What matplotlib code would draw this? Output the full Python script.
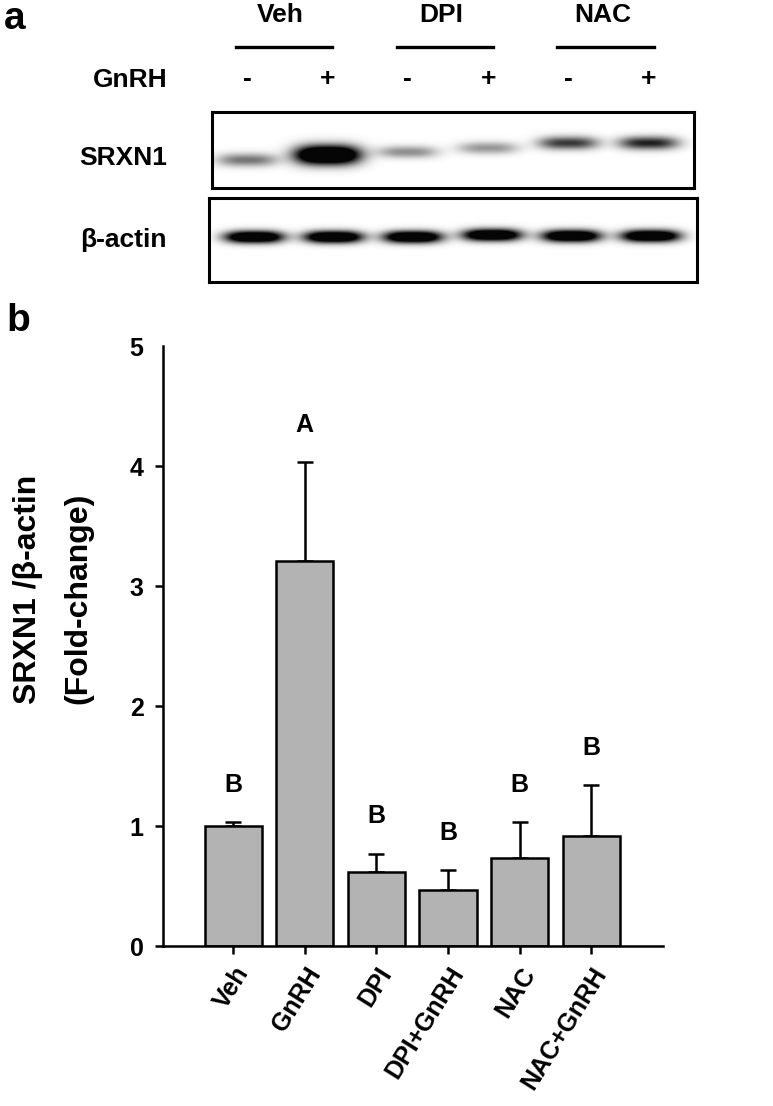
import numpy as np
import matplotlib
matplotlib.use("Agg")
import matplotlib.pyplot as plt
import matplotlib.transforms as mtransforms

plt.rcParams['font.family'] = ['Liberation Sans', 'DejaVu Sans']
plt.rcParams['font.weight'] = 'bold'

# -----------------------
# Data
# -----------------------
groups = ["Veh", "DPI", "NAC"]
gnrh_signs = ["-", "+", "-", "+", "-", "+"]
srxn1_density = [0.55, 1.80, 0.45, 0.42, 0.80, 0.90]   # band darkness (a.u.)
actin_density = [1.60, 1.60, 1.60, 1.60, 1.60, 1.60]

conditions = ["Veh", "GnRH", "DPI", "DPI+GnRH", "NAC", "NAC+GnRH"]
fold_change = [1.00, 3.21, 0.62, 0.47, 0.73, 0.92]
sem = [0.03, 0.82, 0.15, 0.16, 0.30, 0.42]
letters = ["B", "A", "B", "B", "B", "B"]

# band shape (appearance only)
srxn1_row = [48, 43, 40, 36, 31, 31]      # px from top of membrane box
srxn1_thick = [6.5, 9.5, 6, 6, 6.5, 6.5]
actin_row = [39, 39, 39, 37, 38, 38]

W, H = 773, 1106
fig = plt.figure(figsize=(W / 100, H / 100), dpi=100)


def px_axes(x0, y0, x1, y1):
    # axes from pixel box (top-left origin)
    return fig.add_axes([x0 / W, 1 - y1 / H, (x1 - x0) / W, (y1 - y0) / H])


def blot_image(ax, xlim, h_px, density, rows, thick, half_w):
    xs = np.linspace(xlim[0], xlim[1], 600)
    ys = np.arange(h_px) + 0.5
    xx, yy = np.meshgrid(xs, ys)
    dark = np.zeros_like(xx)
    for i, d in enumerate(density):
        hw = half_w * (1.1 if d > 1.7 else 1.0)
        dark += d * np.exp(-(np.abs(xx - i) / hw) ** 3) * np.exp(-((yy - rows[i]) / thick[i]) ** 2)
    img = 1 - 0.98 * np.clip(dark, 0, 1)
    ax.imshow(img, cmap="gray", vmin=0, vmax=1, aspect="auto",
              extent=[xlim[0], xlim[1], h_px, 0], interpolation="bilinear")
    ax.set_xlim(*xlim)
    ax.set_ylim(h_px, 0)
    ax.set_xticks([])
    ax.set_yticks([])
    for s in ax.spines.values():
        s.set_linewidth(2.2)


# -----------------------
# Panel a: western blot
# -----------------------
top_xlim = (-0.435, 5.56)
ax_top = px_axes(212, 112, 694, 188)
blot_image(ax_top, top_xlim, 76, srxn1_density, srxn1_row, srxn1_thick, 0.37)

ax_bot = px_axes(209, 198, 697, 282)
blot_image(ax_bot, (-0.567, 5.58), 84, actin_density, actin_row, [6.0] * 6, 0.37)

trans = mtransforms.blended_transform_factory(ax_top.transData, fig.transFigure)
for g, name in enumerate(groups):
    start = 2 * g
    fig.text(start + 0.42, 1 - 15 / H, name, transform=trans, ha="center", va="center",
             fontsize=19, fontweight="bold")
    fig.add_artist(plt.Line2D([start - 0.14, start + 1.06], [1 - 47 / H] * 2,
                              transform=trans, color="black", lw=2.4))
for i, s in enumerate(gnrh_signs):
    fig.text(i, 1 - 79 / H, s, transform=trans, ha="center", va="center",
             fontsize=19, fontweight="bold")

fig.text(167 / W, 1 - 80 / H, "GnRH", ha="right", va="center", fontsize=19, fontweight="bold")
fig.text(167 / W, 1 - 158 / H, "SRXN1", ha="right", va="center", fontsize=19, fontweight="bold")
fig.text(167 / W, 1 - 240 / H, "β-actin", ha="right", va="center", fontsize=19, fontweight="bold")
fig.text(4 / W, 1 - 1 / H, "a", ha="left", va="top", fontsize=28, fontweight="bold")

# -----------------------
# Panel b: bar chart
# -----------------------
ax = px_axes(163, 346, 663, 946)
x = np.arange(len(conditions))
ax.bar(x, fold_change, width=0.8, color="#b3b3b3", edgecolor="black", linewidth=1.8, zorder=2)
ax.errorbar(x, fold_change, yerr=[np.zeros(len(sem)), sem], fmt="none",
            ecolor="black", elinewidth=1.8, capsize=6, capthick=1.8, zorder=1)
for xi, m, e, l in zip(x, fold_change, sem, letters):
    ax.text(xi, m + e + 0.31, l, ha="center", va="center", fontsize=18, fontweight="bold")

ax.set_xlim(-0.98, 6.0)
ax.set_ylim(0, 5)
ax.set_yticks(range(6))
ax.set_xticks(x)
ax.set_xticklabels(conditions, rotation=58, ha="right", rotation_mode="anchor")
ax.spines["top"].set_visible(False)
ax.spines["right"].set_visible(False)
ax.spines["left"].set_linewidth(1.8)
ax.spines["bottom"].set_linewidth(1.8)
ax.tick_params(axis="both", direction="out", length=6, width=1.8, labelsize=18)
ax.tick_params(axis="y", pad=8)
ax.tick_params(axis="x", pad=6)
ax.yaxis.get_major_ticks()[5].tick1line.set_visible(False)
for lab in ax.get_xticklabels() + ax.get_yticklabels():
    lab.set_fontweight("bold")

fig.text(28 / W, 1 - 704 / H, "SRXN1 /β-actin", rotation=90, ha="center", va="bottom",
         fontsize=23, fontweight="bold")
fig.text(78 / W, 1 - 704 / H, "(Fold-change)", rotation=90, ha="center", va="bottom",
         fontsize=23, fontweight="bold")
fig.text(6 / W, 1 - 303 / H, "b", ha="left", va="top", fontsize=28, fontweight="bold")

fig.savefig("out.png", dpi=100, facecolor="white")
